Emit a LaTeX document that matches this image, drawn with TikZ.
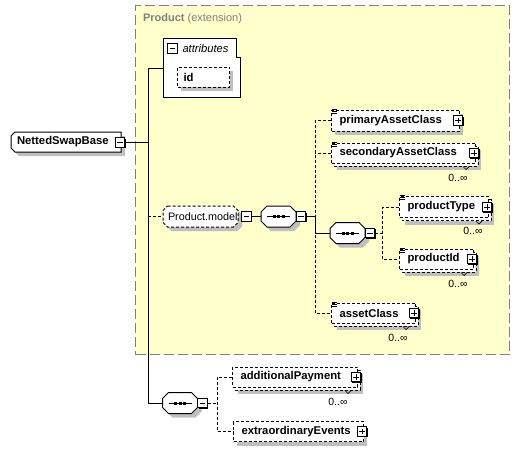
\documentclass[tikz,border=0pt]{standalone}
\usepackage{fontspec}
\setmainfont{Liberation Sans}
\usetikzlibrary{calc}
\definecolor{bgyellow}{RGB}{255,255,204}
\definecolor{shadegray}{rgb}{0.75,0.75,0.75}
\definecolor{bordergray}{RGB}{128,128,128}
\tikzset{
  dsh/.style={dash pattern=on 3pt off 2pt},
  elemfont/.style={font=\fontsize{11.3}{13}\selectfont\bfseries},
  elem/.style={rectangle, draw, dsh, fill=white, inner xsep=8pt, inner ysep=0pt,
               minimum height=20pt, align=left, elemfont, anchor=west},
  shapebox/.style={rectangle, inner ysep=0pt, outer sep=0pt, align=left, anchor=west},
  expbox/.style={rectangle, draw, solid, fill=white, line width=0.8pt, minimum size=9.5pt, inner sep=0pt},
  seqbox/.style={rectangle, minimum width=35pt, minimum height=21pt, inner sep=0pt, outer sep=0pt},
  occ/.style={font=\fontsize{10.5}{12}\selectfont, inner sep=0pt, anchor=east},
  annot/.style={line width=0.7pt, solid},
  glyph/.style={line width=0.9pt, solid},
}
% octagon x1 y1 x2 y2 chamfer options
\newcommand{\octshape}[6]{%
  \path[#6] (#1+#5,#2) -- (#3-#5,#2) -- (#3,#2+#5) -- (#3,#4-#5) -- (#3-#5,#4)
     -- (#1+#5,#4) -- (#1,#4-#5) -- (#1,#2+#5) -- cycle;}
% left corners cut
\newcommand{\lchamshape}[6]{%
  \path[#6] (#1+#5,#2) -- (#3,#2) -- (#3,#4) -- (#1+#5,#4) -- (#1,#4-#5) -- (#1,#2+#5) -- cycle;}
\newcommand{\seqmark}[1]{%
  \draw[line width=0.9pt] ($(#1.west)+(6,0)$) -- ($(#1.east)+(-6,0)$);
  \foreach \dx in {-4.5,0,4.5}
    \fill ($(#1.center)+(\dx,0)+(-1.5,-1.5)$) rectangle ++(3,3);}
\newcommand{\expminus}[2]{%
  \path #2 coordinate (#1-c);
  \fill[black] ($(#1-c)+(-3.75,-3.75)$) rectangle ($(#1-c)+(5.9,5.9)$);
  \node[expbox] (#1) at (#1-c) {};
  \draw[glyph] ($(#1.center)+(-2.6,0)$) -- ($(#1.center)+(2.6,0)$);}
\newcommand{\expplus}[2]{%
  \expminus{#1}{#2}%
  \draw[glyph] ($(#1.center)+(0,-2.6)$) -- ($(#1.center)+(0,2.6)$);}
\newcommand{\annoticon}[1]{%
  \draw[annot] ($(#1.north west)+(1,-0.3)$) -- ++(5,0)
               ($(#1.north west)+(1,1.7)$) -- ++(5,0)
               ($(#1.north west)+(1,3.7)$) -- ++(5,0);}
\newcommand{\occtick}[1]{%
  \draw[line width=0.7pt, solid] ($(#1.south east)+(-13,3)$) -- ++(3,3) -- ++(3,-3);}
\begin{document}
\begin{tikzpicture}[x=1pt,y=-1pt,line width=1pt]
\useasboundingbox (0,0) rectangle (520,450);
\fill[white] (0,0) rectangle (520,450);

% extension container and attributes box
\node[draw=bordergray, fill=bgyellow, dash pattern=on 10pt off 4pt, minimum width=374pt, minimum height=349pt,
      inner sep=0pt, anchor=north west] (ext) at (135,5) {};
\node[minimum width=77.5pt, minimum height=59.5pt, inner sep=0pt, outer sep=0pt, anchor=west] (attr) at (163,68) {};
\draw[fill=white] (attr.north west) -- ($(attr.north east)+(-4.5,0)$) -- ($(attr.north east)+(-4.5,19)$)
   -- ($(attr.north east)+(0,19)$) -- (attr.south east) -- (attr.south west) -- cycle;

% ---- shadows ----
\lchamshape{15}{136}{125}{156}{4}{fill=shadegray}
\fill[shadegray] (181,71) rectangle (233,91);
\octshape{167}{210}{242}{231}{4.5}{fill=shadegray}
\octshape{265}{210}{300}{231}{6}{fill=shadegray}
\octshape{334}{226.5}{369}{247.5}{6}{fill=shadegray}
\octshape{166.5}{396.5}{201.5}{417.5}{6}{fill=shadegray}
\fill[shadegray] (335,114) rectangle (463,135);
\fill[shadegray] (337,150) rectangle (481,170);
\fill[shadegray] (405,203.5) rectangle (494,224.5);
\fill[shadegray] (405,256) rectangle (479,276);
\fill[shadegray] (337,310) rectangle (421,330);
\fill[shadegray] (238,374) rectangle (363,394);
\fill[shadegray] (237,425.5) rectangle (367,445.5);

% ---- stacked copies of repeating elements ----
\draw[dsh, fill=white] (334,146) rectangle (478,166);
\draw[dsh, fill=white] (402,199.5) rectangle (491,220.5);
\draw[dsh, fill=white] (402,252) rectangle (476,272);
\draw[dsh, fill=white] (334,306) rectangle (418,326);
\draw[dsh, fill=white] (235,370) rectangle (360,390);

% ---- outlines of shaped nodes ----
\lchamshape{11}{132}{121}{152}{4}{draw, fill=white}
\octshape{163}{206}{238}{227}{4.5}{draw, dsh, fill=white}
\octshape{261}{206}{296}{227}{6}{draw, fill=white}
\octshape{330}{222.5}{365}{243.5}{6}{draw, fill=white}
\octshape{162.5}{392.5}{197.5}{413.5}{6}{draw, fill=white}

% ---- attributes ----
\expminus{attrm}{(172.5,48.5)}
\node[anchor=west, inner sep=0pt, font=\fontsize{11.2}{13}\selectfont\itshape] (attrtitle) at (182,48.5) {attributes};
\node[elem, inner xsep=6pt, text width=40pt] (id) at (177,77) {id};

% ---- root element ----
\node[shapebox, minimum width=110pt, minimum height=20pt, inner xsep=6pt, text width=98pt, elemfont] (nsb) at (11,142) {NettedSwapBase};
\expminus{nsbm}{(120,142.5)}

% ---- Product.model group ----
\node[shapebox, minimum width=75pt, minimum height=21pt, inner xsep=5pt, text width=65pt,
      font=\fontsize{10.8}{13}\selectfont] (pm) at (163,216.5) {Product.model};
\expminus{pmm}{(246.5,216.5)}

% ---- sequences ----
\node[seqbox] (seq1) at (278.5,216.5) {};
\seqmark{seq1}
\expminus{seq1m}{($(seq1.east)+(5,0)$)}
\node[seqbox] (seq2) at (347.5,233) {};
\seqmark{seq2}
\expminus{seq2m}{($(seq2.east)+(5,0)$)}
\node[seqbox] (seq3) at (180,403) {};
\seqmark{seq3}
\expminus{seq3m}{($(seq3.east)+(5,0)$)}

% ---- elements ----
\node[elem, minimum height=21pt, text width=112pt] (pac) at (331,120.5) {primaryAssetClass};
\expplus{pacp}{($(pac.east)+(-2,0)$)}
\annoticon{pac}

\node[elem, text width=128pt] (sac) at (331,153) {secondaryAssetClass};
\expplus{sacp}{($(sac.east)+(-2,0)$)}
\annoticon{sac}
\node[occ] (sacocc) at ($(sac.south east)+(-8,14)$) {0..∞};
\occtick{sac}

\node[elem, minimum height=21pt, text width=73pt] (pt) at (399,207) {productType};
\expplus{ptp}{($(pt.east)+(-2,0)$)}
\annoticon{pt}
\node[occ] (ptocc) at ($(pt.south east)+(-6,13)$) {0..∞};
\occtick{pt}

\node[elem, text width=58pt] (pid) at (399,259) {productId};
\expplus{pidp}{($(pid.east)+(-2,0)$)}
\annoticon{pid}
\node[occ] (pidocc) at ($(pid.south east)+(-6,14)$) {0..∞};
\occtick{pid}

\node[elem, text width=68pt] (ac) at (331,313) {assetClass};
\expplus{acp}{($(ac.east)+(-2,0)$)}
\annoticon{ac}
\node[occ] (acocc) at ($(ac.south east)+(-8,14)$) {0..∞};
\occtick{ac}

\node[elem, text width=109pt] (ap) at (232,377) {additionalPayment};
\expplus{app}{($(ap.east)+(-2,0)$)}
\node[occ] (apocc) at ($(ap.south east)+(-10,14)$) {0..∞};
\occtick{ap}

\node[elem, text width=114pt] (ee) at (233,431.5) {extraordinaryEvents};
\expplus{eep}{($(ee.east)+(-2,0)$)}

% ---- junctions ----
\coordinate (trunk) at (148,0);
\coordinate (j1) at (315,0);
\coordinate (j2) at (382.5,0);
\coordinate (j3) at (217,0);

% ---- connectors ----
\draw (nsbm.east) -- (nsbm.east -| trunk);
\draw (attr.west) -- (attr.west -| trunk) -- (seq3.west -| trunk) -- (seq3.west);
\draw[dsh] (pm.west -| trunk) -- (pm.west);
\draw (pmm.east) -- (seq1.west);
\draw (seq1m.east) -- (seq1m.east -| j1) -- (seq2.west -| j1) -- (seq2.west);
\draw[dsh] (pac.west) -- (pac.west -| j1) -- (ac.west -| j1) -- (ac.west);
\draw[dsh] (sac.west) -- (sac.west -| j1);
\draw[dsh] (seq2m.east) -- (seq2m.east -| j2);
\draw[dsh] (pt.west) -- (pt.west -| j2) -- (pid.west -| j2) -- (pid.west);
\draw[dsh] (seq3m.east) -- (seq3m.east -| j3);
\draw[dsh] (ap.west) -- (ap.west -| j3) -- (ee.west -| j3) -- (ee.west);

% ---- container title (coloured text, set last) ----
\node[anchor=west, text=bordergray, font=\fontsize{11}{13}\selectfont, inner sep=0pt] (exttitle) at (142.5,18.5)
  {\textbf{Product} (extension)};
\end{tikzpicture}
\end{document}
